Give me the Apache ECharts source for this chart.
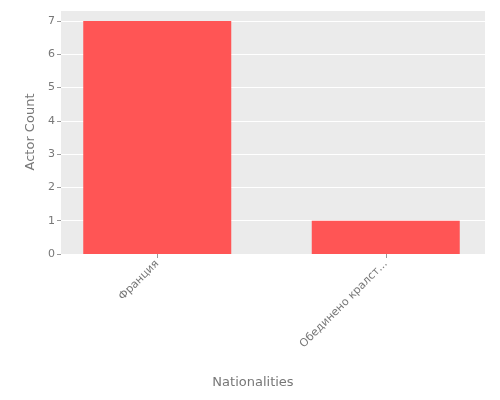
<!DOCTYPE html><html><head><meta charset="utf-8"><script src="https://cdn.jsdelivr.net/npm/echarts@6/dist/echarts.min.js"></script></head><body style="margin:0"><div id="c" style="width:500px;height:400px"></div><script>
const categories = ["Франция", "Обединено кралст..."];
const actorCounts = [7, 1];
const yTicks = [0,1,2,3,4,5,6,7];
const ch = echarts.init(document.getElementById('c'));
ch.setOption({
  animation:false,
  graphic:[{type:'rect',shape:{x:61,y:10,width:424,height:244},style:{fill:'#ebebeb'},z:-10}],
  grid:{left:43,top:10,width:466,bottom:146},
  xAxis:{type:'category',data:categories,boundaryGap:true,
    axisLine:{show:false},axisTick:{show:true,alignWithLabel:true,length:4,lineStyle:{color:'#999'}},
    axisLabel:{rotate:45,color:'#777',fontSize:11,fontFamily:'DejaVu Sans',margin:8},
    name:'Nationalities',nameLocation:'middle',nameGap:122,
    nameTextStyle:{color:'#777',fontSize:13,fontFamily:'DejaVu Sans',padding:[0,0,0,-37]}},
  yAxis:{type:'value',min:0,max:7.33,interval:1,offset:-18,
    axisLine:{show:false},axisTick:{show:true,length:4,lineStyle:{color:'#999'}},
    splitLine:{lineStyle:{color:'#fff',width:1}},
    axisLabel:{showMaxLabel:false,color:'#777',fontSize:11,fontFamily:'DejaVu Sans',margin:6,
      formatter:v=>yTicks.includes(v)?String(v):''},
    name:'Actor Count',nameLocation:'middle',nameGap:6,
    nameTextStyle:{color:'#777',fontSize:13,fontFamily:'DejaVu Sans',padding:[0,0,0,0]}},
  series:[{type:'bar',data:actorCounts,barWidth:148,itemStyle:{color:'#ff5555'}}]
});
</script></body></html>
